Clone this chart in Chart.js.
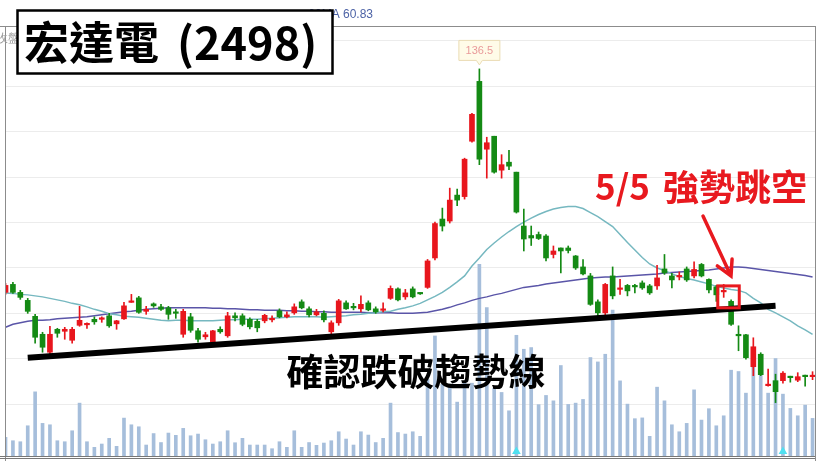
<!DOCTYPE html>
<html lang="zh-Hant">
<head>
<meta charset="UTF-8">
<title>宏達電 (2498)</title>
<script src="https://cdn.jsdelivr.net/npm/chart.js"></script>
<style>
  html, body { margin: 0; padding: 0; background: #fff; }
  canvas { display: block; }
</style>
</head>
<body>
<canvas id="kChart" width="820" height="461"></canvas>
<script>
// daily candles, one entry per trading day
const opens = [91.7,93.3,91.7,90.1,86.9,83.3,79.7,84.3,83.9,82.1,
  85.1,85.2,86.3,86.3,87.0,85.4,86.4,89.7,90.6,87.9,
  89.4,88.8,88.6,87.8,83.3,86.8,84.0,82.8,81.8,84.3,
  83.0,87.0,87.0,86.3,85.9,86.0,86.2,88.0,86.8,87.6,
  89.8,88.4,87.2,87.5,83.8,85.6,89.6,88.9,88.4,89.6,
  88.4,88.1,90.5,92.4,90.8,92.4,91.6,92.7,98.6,106.4,
  106.0,111.2,110.9,122.0,134.0,120.4,123.0,116.2,117.8,115.8,
  105.0,103.1,103.3,103.0,99.3,100.6,100.6,99.0,96.8,95.0,
  89.8,87.6,95.0,92.3,93.1,93.1,93.6,93.0,93.0,96.4,
  95.0,94.8,96.4,95.0,97.3,94.3,92.8,91.8,89.9,83.3,
  83.2,76.8,79.3,73.0,74.0,74.0,74.8,74.1,75.0,74.8];
const highs = [93.5,93.7,92.1,90.5,87.3,83.7,84.9,84.5,84.7,84.7,
  88.9,85.6,86.8,86.8,87.5,86.1,89.7,91.3,90.9,88.9,
  89.6,89.3,88.9,88.3,88.3,87.5,84.5,83.7,84.1,84.8,
  87.7,87.6,87.4,86.6,86.3,87.3,87.0,88.4,87.8,89.4,
  90.2,88.8,88.3,88.0,86.0,90.3,90.0,89.5,91.0,90.0,
  88.8,89.6,93.0,92.6,92.3,92.8,91.6,98.3,105.8,108.6,
  112.6,112.4,118.6,127.6,136.5,122.8,123.0,119.3,120.2,115.8,
  108.4,105.0,103.8,103.3,101.0,100.6,101.0,99.1,98.3,95.5,
  90.2,93.5,96.8,94.3,93.3,93.3,94.0,93.3,97.1,99.3,
  95.5,95.8,96.8,97.8,97.5,94.4,93.1,93.3,90.2,85.0,
  83.3,82.6,79.6,76.3,75.3,75.8,74.9,75.6,75.1,75.8];
const lows = [91.3,91.5,90.3,87.5,81.5,79.7,78.9,82.7,82.3,81.5,
  84.9,84.5,85.3,85.7,84.7,84.3,86.3,89.7,87.5,87.3,
  88.7,88.1,86.3,86.5,82.7,83.7,81.7,82.3,81.5,83.5,
  82.7,86.0,85.0,84.4,83.8,85.6,85.8,86.6,86.6,87.3,
  88.4,86.8,87.0,85.8,83.3,85.1,88.3,88.2,87.8,88.0,
  87.5,87.8,90.3,90.0,90.3,90.6,91.3,92.5,98.2,104.0,
  105.6,109.1,110.4,121.8,117.3,114.6,115.6,114.6,116.3,107.6,
  100.0,101.1,102.3,98.0,98.6,95.6,99.6,96.3,95.2,89.1,
  87.0,87.1,90.4,91.3,91.0,91.6,92.3,91.3,92.3,95.3,
  92.6,94.2,93.9,94.6,94.8,91.6,89.9,90.7,85.1,80.0,
  78.3,75.0,75.0,72.9,69.6,73.5,73.7,73.8,72.9,74.2];
const closes = [93.1,91.7,90.7,87.9,82.7,80.7,83.3,83.5,84.3,84.3,
  86.1,85.5,85.8,86.6,85.0,86.0,89.0,89.9,87.7,88.3,
  89.0,88.3,87.3,87.5,87.9,84.1,82.3,83.2,84.0,83.8,
  87.0,86.6,85.3,84.8,84.6,87.1,86.4,86.8,87.2,88.8,
  88.6,87.2,87.8,86.2,85.6,90.0,88.4,88.6,89.3,88.2,
  87.8,88.4,92.5,90.2,91.6,90.8,91.4,98.0,105.5,105.0,
  110.2,110.2,118.4,127.4,118.4,121.7,115.8,117.3,117.0,107.8,
  102.4,102.6,102.5,98.6,100.0,100.0,100.1,96.6,95.4,89.3,
  87.6,93.3,91.0,92.6,92.0,92.8,92.6,91.6,94.6,95.6,
  94.2,95.1,94.2,96.3,95.0,92.2,91.2,92.0,85.3,83.0,
  78.6,80.8,75.2,73.3,71.8,75.5,74.6,74.8,74.8,75.1];
const volumes = [3740,3060,2860,6060,12860,6540,6260,3060,2860,5060,
  10600,2860,1740,2400,3540,1940,7600,6260,5860,2200,
  4500,2700,4600,4140,5540,4060,4400,3260,2400,2860,
  5060,2660,3540,2200,2200,2200,1460,2860,1740,5060,
  1740,2700,2140,2600,3060,4860,3400,2200,4860,4200,
  2700,3540,10600,4700,4400,4860,3940,15400,24060,14400,
  14400,10800,15000,14600,38400,29740,13600,12740,9060,24200,
  21400,21740,10300,12140,11060,18140,10340,10600,11340,19740,
  18860,20400,29260,15060,10400,7480,7640,3940,13800,11060,
  6260,4860,6540,13260,7200,9480,6060,8060,17200,16940,
  12600,18600,16300,12600,19540,12400,9540,8060,10200,7540];
const ma20 = [91.6,91.5,91.3,91.2,91.0,90.8,90.5,90.2,89.9,89.5,
  89.2,88.8,88.3,87.9,87.4,87.2,86.9,86.8,86.7,86.5,
  86.3,86.1,86.0,86.1,86.1,86.0,86.0,86.0,86.0,86.1,
  86.2,86.2,86.3,86.3,86.3,86.4,86.5,86.6,86.7,86.8,
  86.8,86.8,86.8,86.7,86.8,86.9,87.0,87.2,87.3,87.5,
  87.6,87.8,87.9,88.3,88.6,89.0,89.5,90.2,90.9,91.7,
  92.7,93.8,95.0,97.0,98.6,100.3,101.6,102.8,103.9,104.9,
  105.8,106.6,107.3,107.9,108.4,108.7,108.9,108.9,108.5,107.7,
  106.9,105.9,104.9,103.3,101.7,100.2,98.7,97.4,96.6,96.1,
  95.4,94.9,94.5,94.2,93.8,93.4,92.9,92.6,92.3,92.1,
  91.6,90.5,89.6,88.3,87.6,86.8,86.0,85.0,84.2,83.3];
const ma60 = [84.7,85.3,85.6,85.9,86.1,86.1,86.2,86.4,86.5,86.6,
  86.7,86.8,87.0,87.2,87.4,87.6,87.8,87.9,88.1,88.3,
  88.4,88.5,88.6,88.6,88.6,88.6,88.6,88.6,88.5,88.5,
  88.4,88.4,88.3,88.2,88.2,88.1,88.1,88.1,88.0,88.0,
  87.9,87.9,87.8,87.8,87.7,87.7,87.7,87.7,87.7,87.6,
  87.6,87.6,87.6,87.5,87.5,87.5,87.6,87.7,88.0,88.3,
  88.7,89.2,89.6,90.1,90.5,90.8,91.2,91.5,91.9,92.3,
  92.7,92.9,93.1,93.4,93.6,93.8,94.0,94.2,94.4,94.6,
  94.7,94.8,94.8,94.9,95.0,95.1,95.2,95.3,95.4,95.6,
  95.7,95.8,95.9,96.0,96.1,96.2,96.4,96.6,96.8,96.8,
  96.7,96.5,96.3,96.1,95.9,95.7,95.5,95.3,95.1,94.8];
const priceGrid = [142.1, 133.0, 123.9, 114.8, 105.7, 96.6, 87.5, 78.4, 69.3];
const trendLine = [{x: 3, y: 78.6}, {x: 104, y: 89.0}];
const peakDay = 64, peakText = '136.5';
const markerDays = [69, 105];
const gapDay = 97;

const UP = '#e8161d', DOWN = '#148a14', RED = '#e8191f';
const candleColor = opens.map((o, i) => closes[i] >= o ? UP : DOWN);

const annotate = {
  id: 'annotate',
  afterDraw(chart) {
    const { ctx, chartArea: a, scales } = chart;
    const xs = scales.x, ys = scales.y;
    ctx.save();
    // frame
    ctx.strokeStyle = '#8c8c8c';
    ctx.lineWidth = 1;
    ctx.beginPath();
    ctx.moveTo(0, a.top + 0.5); ctx.lineTo(a.right + 1, a.top + 0.5);
    ctx.moveTo(a.left + 0.5, a.top); ctx.lineTo(a.left + 0.5, 461);
    ctx.moveTo(a.right + 0.5, a.top); ctx.lineTo(a.right + 0.5, 461);
    ctx.stroke();
    ctx.strokeStyle = '#777';
    ctx.beginPath();
    ctx.moveTo(0, a.bottom + 0.5); ctx.lineTo(a.right, a.bottom + 0.5);
    ctx.moveTo(0, a.bottom + 2.5); ctx.lineTo(a.right, a.bottom + 2.5);
    ctx.stroke();

    // legend row, mostly hidden under the title box
    ctx.font = '12px "Liberation Sans", Arial, sans-serif';
    ctx.textBaseline = 'middle';
    ctx.textAlign = 'right';
    ctx.fillStyle = '#4d63a6';
    ctx.fillText('60MA 60.83', 373, 15);
    ctx.textAlign = 'left';
    ctx.fillStyle = '#9a9a9a';
    ctx.fillText('收盤價', -4, 39);

    // title box
    ctx.fillStyle = '#fff';
    ctx.fillRect(17, 10, 316, 64);
    ctx.lineWidth = 2.5;
    ctx.strokeStyle = '#000';
    ctx.strokeRect(17.5, 10.5, 315, 63);
    ctx.fillStyle = '#000';
    ctx.font = 'bold 45px "Noto Sans CJK TC", sans-serif';
    ctx.fillText('宏達電', 24, 43);
    ctx.fillText('(2498)', 177, 43);

    // peak label
    const px = xs.getPixelForValue(peakDay);
    const py = ys.getPixelForValue(highs[peakDay]) - 1;
    ctx.fillStyle = '#fffbe8';
    ctx.strokeStyle = '#eadcb4';
    ctx.lineWidth = 1;
    ctx.beginPath();
    ctx.moveTo(px - 20.5, py - 27.5); ctx.lineTo(px + 20.5, py - 27.5);
    ctx.lineTo(px + 20.5, py - 7.5); ctx.lineTo(px + 3, py - 7.5);
    ctx.lineTo(px, py - 3); ctx.lineTo(px - 3, py - 7.5);
    ctx.lineTo(px - 20.5, py - 7.5); ctx.closePath();
    ctx.fill(); ctx.stroke();
    ctx.fillStyle = '#e99a9a';
    ctx.textAlign = 'center';
    ctx.font = '11px "Liberation Sans", Arial, sans-serif';
    ctx.fillText(peakText, px, py - 17);

    // trend-line caption
    ctx.fillStyle = '#000';
    ctx.font = 'bold 37px "Noto Sans CJK TC", sans-serif';
    ctx.fillText('確認跌破趨勢線', 416, 372);

    // gap note
    ctx.fillStyle = RED;
    ctx.textAlign = 'left';
    ctx.font = 'bold 35px "Noto Sans CJK TC", sans-serif';
    ctx.fillText('5/5', 595, 187);
    ctx.font = 'bold 36px "Noto Sans CJK TC", sans-serif';
    ctx.fillText('強勢跳空', 663, 187);

    // box around the gap
    const bx0 = xs.getPixelForValue(gapDay - 0.8), bx1 = xs.getPixelForValue(gapDay + 2.1);
    const by0 = ys.getPixelForValue(93.0), by1 = ys.getPixelForValue(88.6);
    ctx.strokeStyle = RED;
    ctx.lineWidth = 3;
    ctx.strokeRect(bx0, by0, bx1 - bx0, by1 - by0);

    // arrow
    const tx = 731, ty = 276, sx = 703, sy = 216;
    const ang = Math.atan2(ty - sy, tx - sx);
    ctx.lineWidth = 3.5;
    ctx.lineCap = 'round';
    ctx.beginPath();
    ctx.moveTo(sx, sy); ctx.lineTo(tx, ty);
    ctx.moveTo(tx - 17 * Math.cos(ang - 0.5), ty - 17 * Math.sin(ang - 0.5));
    ctx.lineTo(tx, ty);
    ctx.lineTo(tx - 17 * Math.cos(ang + 0.5), ty - 17 * Math.sin(ang + 0.5));
    ctx.stroke();
    ctx.restore();
  }
};

new Chart(document.getElementById('kChart'), {
  type: 'bar',
  data: {
    datasets: [
      {
        type: 'line',
        data: trendLine,
        borderColor: '#000',
        borderWidth: 6,
        pointRadius: 0,
        order: 0
      },
      {
        type: 'scatter',
        yAxisID: 'yv',
        data: markerDays.map(i => ({ x: i, y: 900 })),
        pointStyle: 'triangle',
        pointRadius: 5,
        backgroundColor: '#4fe0f0',
        borderWidth: 0,
        order: 0
      },
      {
        data: opens.map((o, i) => ({ x: i, y: [Math.min(o, closes[i]), Math.max(o, closes[i])] })),
        backgroundColor: candleColor,
        barThickness: 5,
        minBarLength: 1.5,
        grouped: false,
        order: 1
      },
      {
        data: lows.map((l, i) => ({ x: i, y: [l, highs[i]] })),
        backgroundColor: candleColor,
        barThickness: 1,
        grouped: false,
        order: 2
      },
      {
        type: 'line',
        data: ma20.map((v, i) => ({ x: i, y: v })),
        borderColor: '#76b8c0',
        borderWidth: 1.5,
        pointRadius: 0,
        order: 3
      },
      {
        type: 'line',
        data: ma60.map((v, i) => ({ x: i, y: v })),
        borderColor: '#5a55a8',
        borderWidth: 1.5,
        pointRadius: 0,
        order: 3
      },
      {
        yAxisID: 'yv',
        data: volumes.map((v, i) => ({ x: i, y: v })),
        backgroundColor: '#a6bedb',
        barThickness: 3,
        grouped: false,
        order: 6
      }
    ]
  },
  options: {
    responsive: false,
    animation: false,
    events: [],
    layout: { padding: { left: 2, top: 26, right: 3, bottom: 4 } },
    plugins: { legend: { display: false }, tooltip: { enabled: false } },
    scales: {
      x: { type: 'linear', min: -0.07, max: 109.33, offset: false, display: false },
      y: {
        min: 58.9, max: 145.1,
        ticks: { display: false },
        border: { display: false },
        grid: { color: '#ececec', drawTicks: false },
        afterBuildTicks: s => { s.ticks = priceGrid.map(v => ({ value: v })); }
      },
      yv: { min: 0, max: 86200, display: false }
    }
  },
  plugins: [annotate]
});
</script>
</body>
</html>
